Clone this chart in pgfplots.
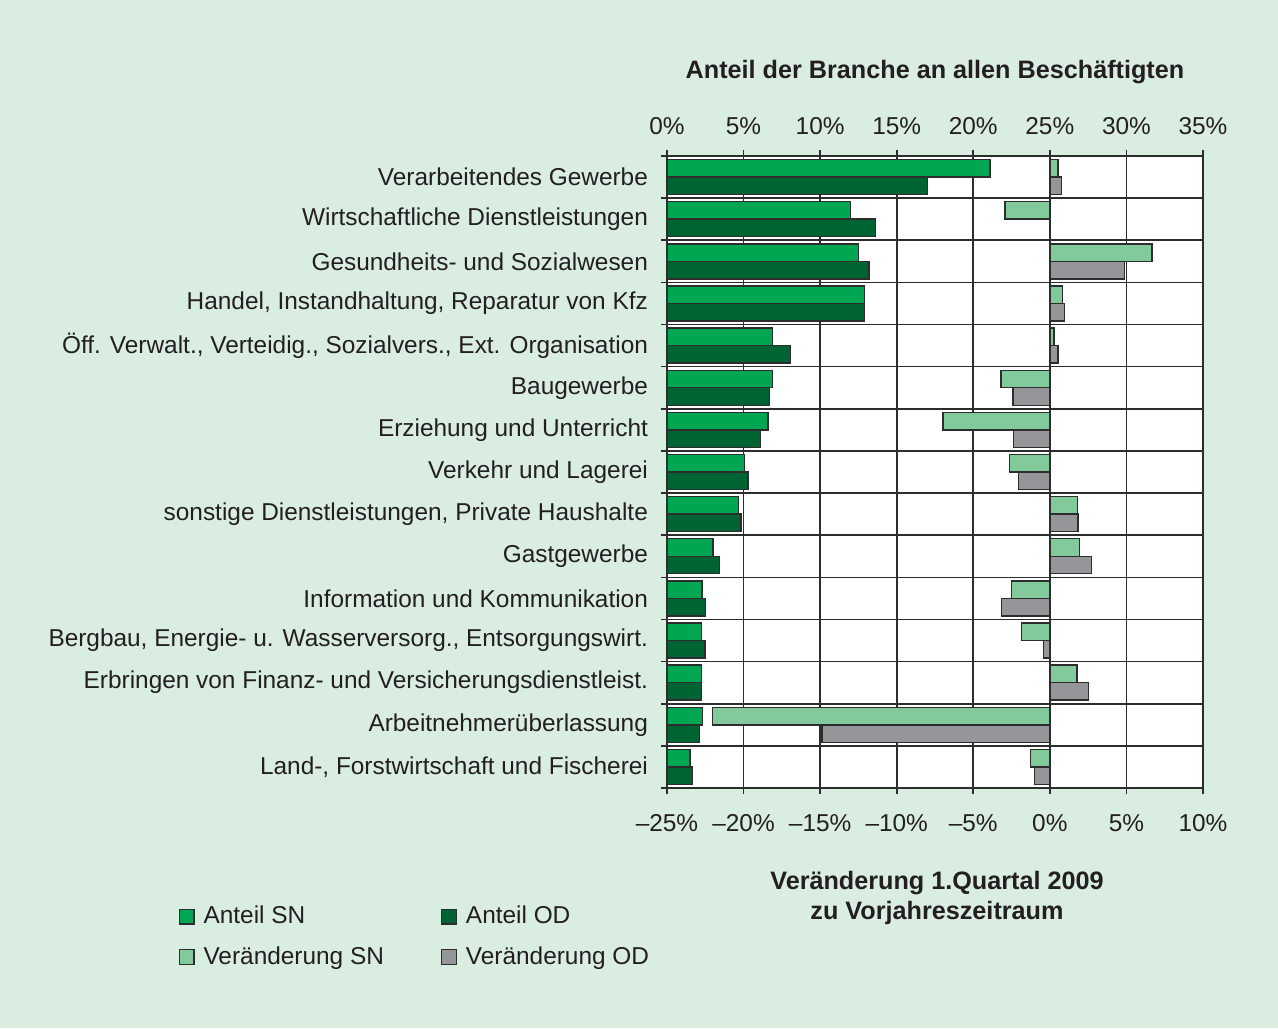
\documentclass[border=0pt]{standalone}
\usepackage{pgfplots}
\pgfplotsset{compat=1.18}
\usepackage{pgfplotstable}
\usepackage{fontspec}
\setmainfont{Liberation Sans}
\definecolor{bgc}{RGB}{217,237,224}
\definecolor{aSN}{RGB}{0,166,81}
\definecolor{aOD}{RGB}{0,99,50}
\definecolor{vSN}{RGB}{130,202,156}
\definecolor{vOD}{RGB}{148,150,153}
\definecolor{bord}{RGB}{45,45,45}
\definecolor{txt}{RGB}{35,31,32}

\pgfplotstableread{
y aSN aOD vSN vOD
15 21.1 17.0 0.52 0.78
14 12.0 13.6 -2.94 0
13 12.5 13.2 6.67 4.86
12 12.9 12.9 0.81 0.96
11 6.9 8.05 0.26 0.52
10 6.9 6.7 -3.2 -2.4
9 6.6 6.1 -6.97 -2.37
8 5.07 5.3 -2.63 -2.05
7 4.68 4.83 1.79 1.83
6 3.0 3.44 1.92 2.7
5 2.28 2.5 -2.52 -3.14
4 2.26 2.48 -1.87 -0.43
3 2.24 2.24 1.77 2.51
2 2.3 2.13 -22.03 -14.88
1 1.5 1.66 -1.26 -1.02
}\data

\newcommand{\lblfont}{\fontsize{12.2}{14.6}\selectfont}
\pgfplotsset{sqleg/.style={legend image code/.code={\draw[##1,line width=0.6pt] (0pt,-3.7pt) rectangle (7.4pt,3.7pt);}}}

\begin{document}
\begin{tikzpicture}
\useasboundingbox (-333.5pt,-120pt) rectangle (305.5pt,394pt);
\fill[bgc] (-333.5pt,-120pt) rectangle (305.5pt,394pt);
\begin{axis}[
  scale only axis, width=268pt, height=316pt,
  at={(0,0)}, anchor=south west,
  xmin=0, xmax=35, ymin=0.5, ymax=15.5, enlargelimits=false,
  clip mode=individual,
  axis background/.style={fill=white},
  axis line style={draw=bord, line width=0.8pt},
  xtick={0,5,...,35},
  xticklabels={0\%,5\%,10\%,15\%,20\%,25\%,30\%,35\%},
  xtick pos=right, xticklabel pos=right,
  ytick={0.5,1.5,...,15.5}, yticklabels={},
  ytick pos=left,
  tick align=outside, major tick length=3pt,
  tick style={draw=bord, line width=0.8pt},
  xmajorgrids, ymajorgrids,
  grid style={draw=bord, line width=0.8pt},
  extra y ticks={1,...,15},
  extra y tick labels={{Land-, Forstwirtschaft und Fischerei},{Arbeitnehmerüberlassung},{Erbringen von Finanz- und Versicherungsdienstleist.},{Bergbau, Energie- u. Wasserversorg., Entsorgungswirt.},{Information und Kommunikation},{Gastgewerbe},{sonstige Dienstleistungen, Private Haushalte},{Verkehr und Lagerei},{Erziehung und Unterricht},{Baugewerbe},{Öff. Verwalt., Verteidig., Sozialvers., Ext. Organisation},{Handel, Instandhaltung, Reparatur von Kfz},{Gesundheits- und Sozialwesen},{Wirtschaftliche Dienstleistungen},{Verarbeitendes Gewerbe}},
  extra y tick style={major tick length=0pt, grid=none},
  tick label style={font=\lblfont, text=txt},
  yticklabel shift=6pt,
  xticklabel shift=4pt,
  /pgf/number format/assume math mode=true,
]
\addplot[xbar, bar width=8.75pt, bar shift=4.375pt, fill=aSN, draw=bord, line width=0.7pt] table[x=aSN,y=y]{\data};
\addplot[xbar, bar width=8.75pt, bar shift=-4.375pt, fill=aOD, draw=bord, line width=0.7pt] table[x=aOD,y=y]{\data};
\end{axis}
\begin{axis}[
  scale only axis, width=268pt, height=316pt,
  at={(0,0)}, anchor=south west,
  xmin=-25, xmax=10, ymin=0.5, ymax=15.5, enlargelimits=false,
  clip mode=individual,
  axis line style={draw=none},
  xtick={-25,-20,...,10},
  xticklabels={--25\%,--20\%,--15\%,--10\%,--5\%,0\%,5\%,10\%},
  xtick pos=left, xticklabel pos=left,
  ytick=\empty,
  tick align=outside, major tick length=3pt,
  tick style={draw=bord, line width=0.8pt},
  tick label style={font=\lblfont, text=txt},
  xticklabel shift=6.5pt,
  legend columns=2,
  legend cell align=left,
  legend style={draw=none, fill=none, at={(-0.912,-0.18)}, anchor=north west, inner sep=0pt, font=\lblfont, text=txt, row sep=6pt, nodes={inner xsep=4.5pt}, /tikz/every even column/.append style={column sep=24pt}},
]
\addlegendimage{sqleg, fill=aSN, draw=bord}
\addlegendentry{Anteil SN}
\addlegendimage{sqleg, fill=aOD, draw=bord}
\addlegendentry{Anteil OD}
\addlegendimage{sqleg, fill=vSN, draw=bord}
\addlegendentry{Veränderung SN}
\addlegendimage{sqleg, fill=vOD, draw=bord}
\addlegendentry{Veränderung OD}
\addplot[forget plot, xbar, bar width=8.75pt, bar shift=4.375pt, fill=vSN, draw=bord, line width=0.7pt] table[x=vSN,y=y]{\data};
\addplot[forget plot, xbar, bar width=8.75pt, bar shift=-4.375pt, fill=vOD, draw=bord, line width=0.7pt] table[x=vOD,y=y]{\data};
\end{axis}
\node[font=\bfseries\fontsize{12.6}{15}\selectfont, text=txt] at (134pt,358pt) {Anteil der Branche an allen Beschäftigten};
\node[font=\bfseries\fontsize{12.6}{15}\selectfont, text=txt, align=center] at (135pt,-54.75pt) {Veränderung 1.Quartal 2009\\zu Vorjahreszeitraum};
\end{tikzpicture}
\end{document}
